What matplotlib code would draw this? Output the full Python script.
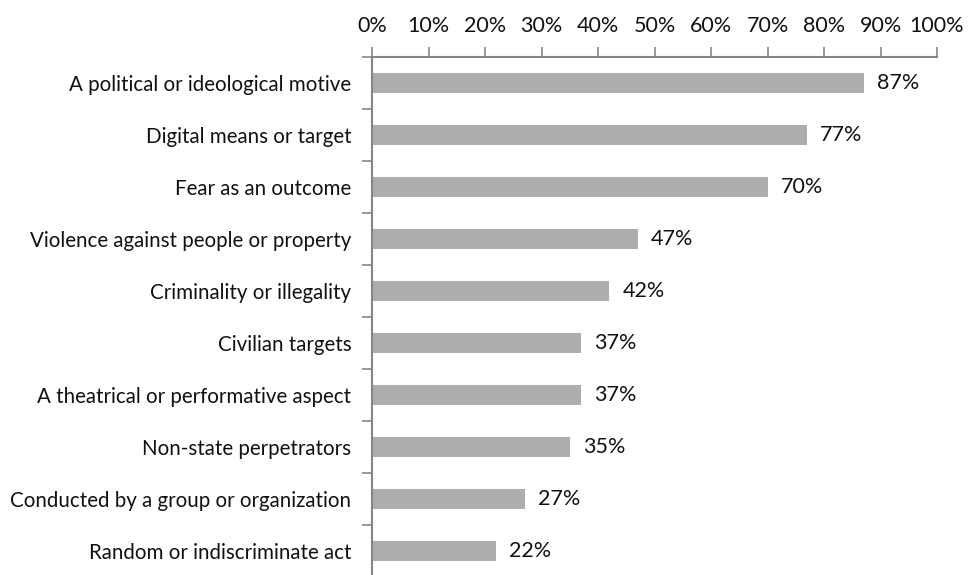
import matplotlib.pyplot as plt
import numpy as np

categories = [
    "A political or ideological motive",
    "Digital means or target",
    "Fear as an outcome",
    "Violence against people or property",
    "Criminality or illegality",
    "Civilian targets",
    "A theatrical or performative aspect",
    "Non-state perpetrators",
    "Conducted by a group or organization",
    "Random or indiscriminate act",
]
values = [87, 77, 70, 47, 42, 37, 37, 35, 27, 22]
x_ticks = list(range(0, 101, 10))

plt.rcParams["font.family"] = ["Lato", "DejaVu Sans"]

fig = plt.figure(figsize=(9.68, 5.75), dpi=100)
ax = fig.add_axes([372 / 968, -2 / 575, 565 / 968, 520 / 575])

y = np.arange(len(categories))
ax.barh(y, values, height=0.4, color="#adadad")

for yi, v in zip(y, values):
    ax.text(v + 2.3, yi, f"{v}%", va="center", ha="left", fontsize=15.5, color="#111111")

ax.set_xlim(0, 100)
ax.set_ylim(len(categories) - 0.5, -0.5)

ax.xaxis.tick_top()
ax.set_xticks(x_ticks)
ax.set_xticklabels([f"{t}%" for t in x_ticks])
ax.tick_params(axis="x", direction="out", length=7, width=1.2, color="#868686",
               labelsize=15.5, pad=8, labelcolor="#111111")

ax.set_yticks(y)
ax.set_yticklabels(categories)
ax.tick_params(axis="y", which="major", length=0, pad=15, labelsize=14.8, labelcolor="#111111")
ax.set_yticks(np.arange(-0.5, len(categories), 1), minor=True)
ax.tick_params(axis="y", which="minor", direction="out", length=7, width=1.2, color="#868686")

for side in ["right", "bottom"]:
    ax.spines[side].set_visible(False)
for side in ["top", "left"]:
    ax.spines[side].set_color("#868686")
    ax.spines[side].set_linewidth(1.5)

fig.savefig("out.png", dpi=100)
